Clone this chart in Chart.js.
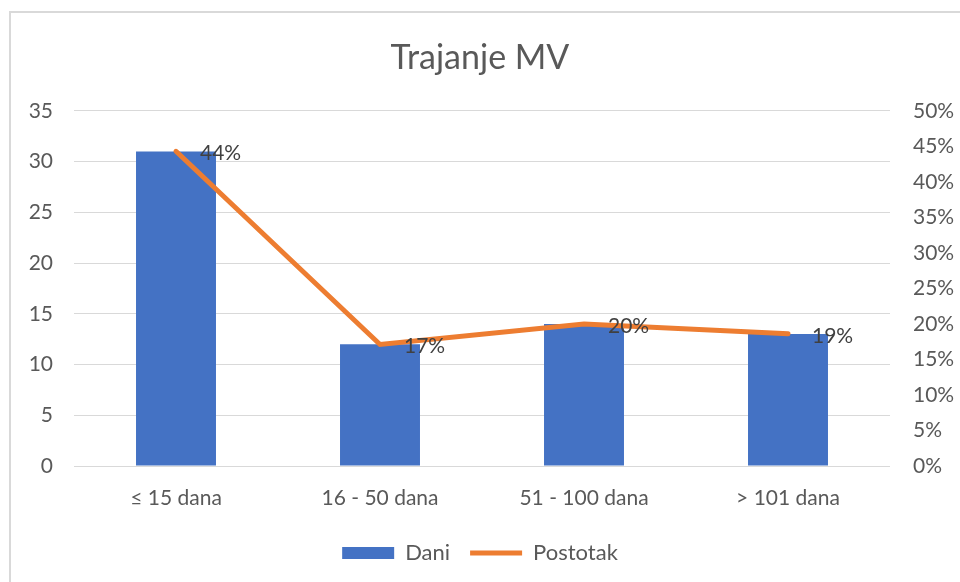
<!DOCTYPE html>
<html>
<head>
<meta charset="utf-8">
<script src="https://cdn.jsdelivr.net/npm/chart.js@4.4.1/dist/chart.umd.min.js"></script>
<style>
  body { margin: 0; background: #fff; overflow: hidden; }
  #okvir { position: absolute; left: 9px; top: 11px; width: 1000px; height: 620px; border: 2px solid #d9d9d9; }
  #graf { position: absolute; left: 0; top: 0; }
</style>
</head>
<body>
<div id="okvir"></div>
<canvas id="graf" width="960" height="582"></canvas>
<script>
const kategorije = ['≤ 15 dana', '16 - 50 dana', '51 - 100 dana', '> 101 dana'];
const dani = [31, 12, 14, 13];
const postotak = [0.443, 0.171, 0.20, 0.186];

const siva = '#595959';
const font = 'Lato, "Open Sans", sans-serif';

// oznake postotaka desno od točaka linije
const oznake = {
  id: 'oznake',
  afterDatasetsDraw(chart) {
    const meta = chart.getDatasetMeta(1);
    const ctx = chart.ctx;
    ctx.save();
    ctx.font = '21px ' + font;
    ctx.fillStyle = '#404040';
    ctx.textAlign = 'left';
    ctx.textBaseline = 'middle';
    meta.data.forEach((p, i) => {
      ctx.fillText(Math.round(postotak[i] * 100) + '%', p.x + 24, p.y + 2);
    });
    ctx.restore();
  }
};

const ctx = document.getElementById('graf').getContext('2d');
new Chart(ctx, {
  type: 'bar',
  data: {
    labels: kategorije,
    datasets: [{
      label: 'Dani',
      data: dani,
      backgroundColor: '#4472C4',
      borderWidth: 0,
      barPercentage: 0.392,
      categoryPercentage: 1,
      pointStyle: 'rect',
      yAxisID: 'y',
      order: 1
    }, {
      type: 'line',
      label: 'Postotak',
      data: postotak,
      borderColor: '#ED7D31',
      backgroundColor: '#ED7D31',
      borderWidth: 5,
      borderCapStyle: 'round',
      pointRadius: 0,
      pointStyle: 'line',
      tension: 0,
      yAxisID: 'y1',
      order: 0
    }]
  },
  options: {
    responsive: false,
    animation: false,
    layout: { padding: { left: 0, right: 0, top: 0, bottom: 8 } },
    plugins: {
      title: {
        display: true,
        text: 'Trajanje MV',
        color: siva,
        font: { family: font, size: 34, weight: 'normal' },
        padding: { top: 38, bottom: 32 }
      },
      legend: {
        position: 'bottom',
        labels: {
          usePointStyle: true,
          pointStyleWidth: 52,
          boxHeight: 12,
          padding: 20,
          color: siva,
          font: { family: font, size: 22 },
          sort: (a, b) => a.datasetIndex - b.datasetIndex
        }
      },
      tooltip: { enabled: false }
    },
    scales: {
      x: {
        grid: { display: false, drawTicks: false },
        border: { display: false },
        ticks: { color: siva, font: { family: font, size: 21 }, padding: 20 },
        afterFit(s) { s.height = 56; }
      },
      y: {
        position: 'left',
        min: 0, max: 35,
        ticks: { stepSize: 5, color: siva, font: { family: font, size: 21 }, padding: 21 },
        grid: { color: '#d9d9d9', lineWidth: 1, drawTicks: false },
        border: { display: false },
        afterFit(s) { s.width = 74; }
      },
      y1: {
        position: 'right',
        min: 0, max: 0.5,
        ticks: {
          stepSize: 0.05, color: siva, font: { family: font, size: 21 }, padding: 23,
          callback: v => Math.round(v * 100) + '%'
        },
        grid: { display: false, drawTicks: false },
        border: { display: false },
        afterFit(s) { s.width = 70; }
      }
    }
  },
  plugins: [oznake]
});
</script>
</body>
</html>
